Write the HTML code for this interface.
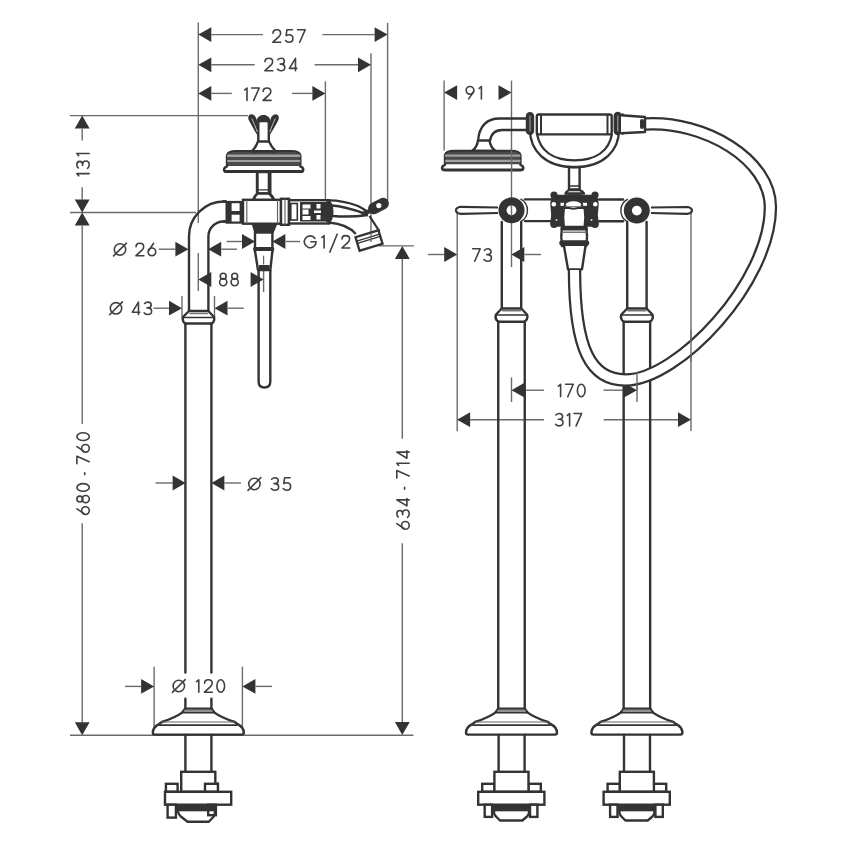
<!DOCTYPE html>
<html><head><meta charset="utf-8"><style>
html,body{margin:0;padding:0;background:#fff;}
svg{display:block;}
text{font-family:"Liberation Sans", sans-serif;}
</style></head><body>
<svg width="850" height="850" viewBox="0 0 850 850" style="will-change:transform">
<rect width="850" height="850" fill="#fff"/>
<line x1="198.3" y1="22.5" x2="198.3" y2="223" stroke="#6a6a6a" stroke-width="1.4"/>
<line x1="387.6" y1="22.8" x2="387.6" y2="201" stroke="#6a6a6a" stroke-width="1.4"/>
<line x1="371" y1="53.2" x2="371" y2="242" stroke="#6a6a6a" stroke-width="1.4"/>
<line x1="325.4" y1="81.4" x2="325.4" y2="200.6" stroke="#6a6a6a" stroke-width="1.4"/>
<polygon points="198.3,34.6 211.3,27.2 211.3,42.0" fill="#333"/>
<line x1="211.3" y1="34.6" x2="263" y2="34.6" stroke="#6a6a6a" stroke-width="1.4"/>
<line x1="322.4" y1="34.6" x2="374.6" y2="34.6" stroke="#6a6a6a" stroke-width="1.4"/>
<polygon points="387.6,34.6 374.6,27.2 374.6,42.0" fill="#333"/>
<g transform="translate(272.00,29.00)" fill="none" stroke="#404040" stroke-width="1.6" stroke-linecap="round" stroke-linejoin="round"><g transform="translate(0.00,0) scale(1.0)"><path d="M 1.0,4.2 C 1.0,2.1 2.7,0.8 4.8,0.8 C 7.0,0.8 8.6,2.3 8.6,4.2 C 8.6,5.6 7.9,6.6 6.9,7.6 L 0.9,13.2 L 8.8,13.2"/></g><g transform="translate(12.70,0) scale(1.0)"><path d="M 7.8,0.8 L 2.2,0.8 L 1.4,6.6 C 2.3,6.0 3.3,5.7 4.4,5.7 C 6.7,5.7 8.2,7.3 8.2,9.4 C 8.2,11.6 6.5,13.2 4.3,13.2 C 2.8,13.2 1.6,12.6 0.8,11.6"/></g><g transform="translate(24.80,0) scale(1.0)"><path d="M 0.8,0.8 L 8.4,0.8 L 2.9,13.2"/></g></g>
<polygon points="198.3,64.8 211.3,57.4 211.3,72.2" fill="#333"/>
<line x1="211.3" y1="64.8" x2="254.7" y2="64.8" stroke="#6a6a6a" stroke-width="1.4"/>
<line x1="314.6" y1="64.8" x2="358.0" y2="64.8" stroke="#6a6a6a" stroke-width="1.4"/>
<polygon points="371.0,64.8 358.0,57.4 358.0,72.2" fill="#333"/>
<g transform="translate(264.00,57.50)" fill="none" stroke="#404040" stroke-width="1.6" stroke-linecap="round" stroke-linejoin="round"><g transform="translate(0.00,0) scale(1.0)"><path d="M 1.0,4.2 C 1.0,2.1 2.7,0.8 4.8,0.8 C 7.0,0.8 8.6,2.3 8.6,4.2 C 8.6,5.6 7.9,6.6 6.9,7.6 L 0.9,13.2 L 8.8,13.2"/></g><g transform="translate(12.60,0) scale(1.0)"><path d="M 1.2,2.2 C 2.0,1.3 3.2,0.8 4.5,0.8 C 6.5,0.8 7.8,2.1 7.8,3.8 C 7.8,5.5 6.4,6.6 4.4,6.6 L 3.6,6.6 M 4.4,6.6 C 6.8,6.6 8.2,8.0 8.2,9.9 C 8.2,11.9 6.6,13.2 4.4,13.2 C 2.9,13.2 1.6,12.6 0.8,11.6"/></g><g transform="translate(24.60,0) scale(1.0)"><path d="M 6.9,13.2 L 6.9,0.8 L 0.8,10.9 L 8.2,10.9"/></g></g>
<polygon points="198.3,93.4 211.3,86.0 211.3,100.8" fill="#333"/>
<line x1="211.3" y1="93.4" x2="231.8" y2="93.4" stroke="#6a6a6a" stroke-width="1.4"/>
<line x1="292" y1="93.4" x2="312.4" y2="93.4" stroke="#6a6a6a" stroke-width="1.4"/>
<polygon points="325.4,93.4 312.4,86.0 312.4,100.8" fill="#333"/>
<g transform="translate(244.00,87.20)" fill="none" stroke="#404040" stroke-width="1.6" stroke-linecap="round" stroke-linejoin="round"><g transform="translate(0.00,0) scale(1.0)"><path d="M 0.8,2.7 L 3.0,0.8 L 3.0,13.2"/></g><g transform="translate(6.80,0) scale(1.0)"><path d="M 0.8,0.8 L 8.4,0.8 L 2.9,13.2"/></g><g transform="translate(18.20,0) scale(1.0)"><path d="M 1.0,4.2 C 1.0,2.1 2.7,0.8 4.8,0.8 C 7.0,0.8 8.6,2.3 8.6,4.2 C 8.6,5.6 7.9,6.6 6.9,7.6 L 0.9,13.2 L 8.8,13.2"/></g></g>
<line x1="70" y1="115.6" x2="248" y2="115.6" stroke="#6a6a6a" stroke-width="1.4"/>
<line x1="70" y1="212.5" x2="196" y2="212.5" stroke="#6a6a6a" stroke-width="1.4"/>
<polygon points="82.2,115.6 74.8,128.6 89.6,128.6" fill="#333"/>
<line x1="82.2" y1="128.6" x2="82.2" y2="140.4" stroke="#6a6a6a" stroke-width="1.4"/>
<g transform="translate(90.00,176.60) rotate(-90) translate(0,-14.00)" fill="none" stroke="#404040" stroke-width="1.6" stroke-linecap="round" stroke-linejoin="round"><g transform="translate(0.00,0) scale(1.0)"><path d="M 0.8,2.7 L 3.0,0.8 L 3.0,13.2"/></g><g transform="translate(7.45,0) scale(1.0)"><path d="M 1.2,2.2 C 2.0,1.3 3.2,0.8 4.5,0.8 C 6.5,0.8 7.8,2.1 7.8,3.8 C 7.8,5.5 6.4,6.6 4.4,6.6 L 3.6,6.6 M 4.4,6.6 C 6.8,6.6 8.2,8.0 8.2,9.9 C 8.2,11.9 6.6,13.2 4.4,13.2 C 2.9,13.2 1.6,12.6 0.8,11.6"/></g><g transform="translate(20.10,0) scale(1.0)"><path d="M 0.8,2.7 L 3.0,0.8 L 3.0,13.2"/></g></g>
<line x1="82.2" y1="187.3" x2="82.2" y2="199.5" stroke="#6a6a6a" stroke-width="1.4"/>
<polygon points="82.2,212.5 74.8,199.5 89.6,199.5" fill="#333"/>
<polygon points="82.2,212.5 74.8,225.5 89.6,225.5" fill="#333"/>
<line x1="82.2" y1="225.5" x2="82.2" y2="424" stroke="#6a6a6a" stroke-width="1.4"/>
<g transform="translate(90.10,515.20) rotate(-90) translate(0,-14.00)" fill="none" stroke="#404040" stroke-width="1.6" stroke-linecap="round" stroke-linejoin="round"><g transform="translate(0.00,0) scale(1.0)"><path d="M 6.3,0.8 L 1.5,8.0"/><circle cx="4.6" cy="9.35" r="3.85"/></g><g transform="translate(11.64,0) scale(1.0)"><circle cx="4.5" cy="3.75" r="2.95"/><circle cx="4.5" cy="9.6" r="3.6"/></g><g transform="translate(23.08,0) scale(1.0)"><ellipse cx="4.65" cy="7" rx="3.85" ry="6.2"/></g><g transform="translate(39.80,0) scale(1.0)"><path d="M 0.8,8.6 L 2.6,8.6"/></g><g transform="translate(50.62,0) scale(1.0)"><path d="M 0.8,0.8 L 8.4,0.8 L 2.9,13.2"/></g><g transform="translate(62.26,0) scale(1.0)"><path d="M 6.3,0.8 L 1.5,8.0"/><circle cx="4.6" cy="9.35" r="3.85"/></g><g transform="translate(73.90,0) scale(1.0)"><ellipse cx="4.65" cy="7" rx="3.85" ry="6.2"/></g></g>
<line x1="82.2" y1="523.3" x2="82.2" y2="722.3" stroke="#6a6a6a" stroke-width="1.4"/>
<polygon points="82.2,735.3 74.8,722.3 89.6,722.3" fill="#333"/>
<line x1="70" y1="735.2" x2="413.5" y2="735.2" stroke="#6a6a6a" stroke-width="1.4"/>
<line x1="378.8" y1="245.9" x2="414" y2="245.9" stroke="#6a6a6a" stroke-width="1.4"/>
<polygon points="402.3,245.9 394.9,258.9 409.7,258.9" fill="#333"/>
<line x1="402.3" y1="258.9" x2="402.3" y2="438.8" stroke="#6a6a6a" stroke-width="1.4"/>
<g transform="translate(410.00,530.00) rotate(-90) translate(0,-14.00)" fill="none" stroke="#404040" stroke-width="1.6" stroke-linecap="round" stroke-linejoin="round"><g transform="translate(0.00,0) scale(1.0)"><path d="M 6.3,0.8 L 1.5,8.0"/><circle cx="4.6" cy="9.35" r="3.85"/></g><g transform="translate(11.73,0) scale(1.0)"><path d="M 1.2,2.2 C 2.0,1.3 3.2,0.8 4.5,0.8 C 6.5,0.8 7.8,2.1 7.8,3.8 C 7.8,5.5 6.4,6.6 4.4,6.6 L 3.6,6.6 M 4.4,6.6 C 6.8,6.6 8.2,8.0 8.2,9.9 C 8.2,11.9 6.6,13.2 4.4,13.2 C 2.9,13.2 1.6,12.6 0.8,11.6"/></g><g transform="translate(23.27,0) scale(1.0)"><path d="M 6.9,13.2 L 6.9,0.8 L 0.8,10.9 L 8.2,10.9"/></g><g transform="translate(39.98,0) scale(1.0)"><path d="M 0.8,8.6 L 2.6,8.6"/></g><g transform="translate(51.09,0) scale(1.0)"><path d="M 0.8,0.8 L 8.4,0.8 L 2.9,13.2"/></g><g transform="translate(63.75,0) scale(1.0)"><path d="M 0.8,2.7 L 3.0,0.8 L 3.0,13.2"/></g><g transform="translate(71.00,0) scale(1.0)"><path d="M 6.9,13.2 L 6.9,0.8 L 0.8,10.9 L 8.2,10.9"/></g></g>
<line x1="402.3" y1="543.3" x2="402.3" y2="722.0" stroke="#6a6a6a" stroke-width="1.4"/>
<polygon points="402.3,735.0 394.9,722.0 409.7,722.0" fill="#333"/>
<line x1="158.8" y1="249.2" x2="175.4" y2="249.2" stroke="#6a6a6a" stroke-width="1.4"/>
<polygon points="188.4,249.2 175.4,241.8 175.4,256.6" fill="#333"/>
<polygon points="208.2,249.2 221.2,241.8 221.2,256.6" fill="#333"/>
<line x1="221.2" y1="249.2" x2="237" y2="249.2" stroke="#6a6a6a" stroke-width="1.4"/>
<g transform="translate(113.00,242.50)" fill="none" stroke="#404040" stroke-width="1.6" stroke-linecap="round" stroke-linejoin="round"><g transform="translate(0.00,0) scale(1.0)"><circle cx="7" cy="7" r="5.7"/><path d="M 0.6,13.4 L 13.4,0.6"/></g><g transform="translate(22.06,0) scale(1.0)"><path d="M 1.0,4.2 C 1.0,2.1 2.7,0.8 4.8,0.8 C 7.0,0.8 8.6,2.3 8.6,4.2 C 8.6,5.6 7.9,6.6 6.9,7.6 L 0.9,13.2 L 8.8,13.2"/></g><g transform="translate(34.30,0) scale(1.0)"><path d="M 6.3,0.8 L 1.5,8.0"/><circle cx="4.6" cy="9.35" r="3.85"/></g></g>
<line x1="226.5" y1="241.5" x2="242.0" y2="241.5" stroke="#6a6a6a" stroke-width="1.4"/>
<polygon points="255.0,241.5 242.0,234.1 242.0,248.9" fill="#333"/>
<polygon points="272.4,241.5 285.4,234.1 285.4,248.9" fill="#333"/>
<line x1="285.4" y1="241.5" x2="300" y2="241.5" stroke="#6a6a6a" stroke-width="1.4"/>
<g transform="translate(303.50,234.80)" fill="none" stroke="#404040" stroke-width="1.6" stroke-linecap="round" stroke-linejoin="round"><g transform="translate(0.00,0) scale(1.0)"><path d="M 11.53,3.62 A 5.9,5.9 0 1 0 12.6,7 L 7.4,7"/></g><g transform="translate(17.57,0) scale(1.0)"><path d="M 0.8,2.7 L 3.0,0.8 L 3.0,13.2"/></g><g transform="translate(25.54,0) scale(1.0)"><path d="M 0.8,17.3 L 8.1,-0.6"/></g><g transform="translate(37.50,0) scale(1.0)"><path d="M 1.0,4.2 C 1.0,2.1 2.7,0.8 4.8,0.8 C 7.0,0.8 8.6,2.3 8.6,4.2 C 8.6,5.6 7.9,6.6 6.9,7.6 L 0.9,13.2 L 8.8,13.2"/></g></g>
<line x1="198.3" y1="253" x2="198.3" y2="291" stroke="#6a6a6a" stroke-width="1.4"/>
<line x1="263.6" y1="254" x2="263.6" y2="292" stroke="#6a6a6a" stroke-width="1.4"/>
<polygon points="198.3,279.5 211.3,272.1 211.3,286.9" fill="#333"/>
<polygon points="263.6,279.5 250.6,272.1 250.6,286.9" fill="#333"/>
<g transform="translate(218.70,272.50)" fill="none" stroke="#404040" stroke-width="1.6" stroke-linecap="round" stroke-linejoin="round"><g transform="translate(0.00,0) scale(1.0)"><circle cx="4.5" cy="3.75" r="2.95"/><circle cx="4.5" cy="9.6" r="3.6"/></g><g transform="translate(11.50,0) scale(1.0)"><circle cx="4.5" cy="3.75" r="2.95"/><circle cx="4.5" cy="9.6" r="3.6"/></g></g>
<line x1="182" y1="296" x2="182" y2="318" stroke="#6a6a6a" stroke-width="1.4"/>
<line x1="214.5" y1="296" x2="214.5" y2="318" stroke="#6a6a6a" stroke-width="1.4"/>
<line x1="153.5" y1="308.2" x2="169.0" y2="308.2" stroke="#6a6a6a" stroke-width="1.4"/>
<polygon points="182.0,308.2 169.0,300.8 169.0,315.6" fill="#333"/>
<polygon points="214.5,308.2 227.5,300.8 227.5,315.6" fill="#333"/>
<line x1="227.5" y1="308.2" x2="243.8" y2="308.2" stroke="#6a6a6a" stroke-width="1.4"/>
<g transform="translate(109.00,301.30)" fill="none" stroke="#404040" stroke-width="1.6" stroke-linecap="round" stroke-linejoin="round"><g transform="translate(0.00,0) scale(1.0)"><circle cx="7" cy="7" r="5.7"/><path d="M 0.6,13.4 L 13.4,0.6"/></g><g transform="translate(22.58,0) scale(1.0)"><path d="M 6.9,13.2 L 6.9,0.8 L 0.8,10.9 L 8.2,10.9"/></g><g transform="translate(34.40,0) scale(1.0)"><path d="M 1.2,2.2 C 2.0,1.3 3.2,0.8 4.5,0.8 C 6.5,0.8 7.8,2.1 7.8,3.8 C 7.8,5.5 6.4,6.6 4.4,6.6 L 3.6,6.6 M 4.4,6.6 C 6.8,6.6 8.2,8.0 8.2,9.9 C 8.2,11.9 6.6,13.2 4.4,13.2 C 2.9,13.2 1.6,12.6 0.8,11.6"/></g></g>
<line x1="155.6" y1="483" x2="172.6" y2="483" stroke="#6a6a6a" stroke-width="1.4"/>
<polygon points="185.6,483.0 172.6,475.6 172.6,490.4" fill="#333"/>
<polygon points="211.4,483.0 224.4,475.6 224.4,490.4" fill="#333"/>
<line x1="224.4" y1="483" x2="241" y2="483" stroke="#6a6a6a" stroke-width="1.4"/>
<g transform="translate(247.40,477.00)" fill="none" stroke="#404040" stroke-width="1.6" stroke-linecap="round" stroke-linejoin="round"><g transform="translate(0.00,0) scale(1.0)"><circle cx="7" cy="7" r="5.7"/><path d="M 0.6,13.4 L 13.4,0.6"/></g><g transform="translate(23.03,0) scale(1.0)"><path d="M 1.2,2.2 C 2.0,1.3 3.2,0.8 4.5,0.8 C 6.5,0.8 7.8,2.1 7.8,3.8 C 7.8,5.5 6.4,6.6 4.4,6.6 L 3.6,6.6 M 4.4,6.6 C 6.8,6.6 8.2,8.0 8.2,9.9 C 8.2,11.9 6.6,13.2 4.4,13.2 C 2.9,13.2 1.6,12.6 0.8,11.6"/></g><g transform="translate(35.00,0) scale(1.0)"><path d="M 7.8,0.8 L 2.2,0.8 L 1.4,6.6 C 2.3,6.0 3.3,5.7 4.4,5.7 C 6.7,5.7 8.2,7.3 8.2,9.4 C 8.2,11.6 6.5,13.2 4.3,13.2 C 2.8,13.2 1.6,12.6 0.8,11.6"/></g></g>
<line x1="154.1" y1="666.7" x2="154.1" y2="735" stroke="#6a6a6a" stroke-width="1.4"/>
<line x1="242.4" y1="666.7" x2="242.4" y2="735" stroke="#6a6a6a" stroke-width="1.4"/>
<line x1="125" y1="686.4" x2="141.1" y2="686.4" stroke="#6a6a6a" stroke-width="1.4"/>
<polygon points="154.1,686.4 141.1,679.0 141.1,693.8" fill="#333"/>
<polygon points="242.4,686.4 255.4,679.0 255.4,693.8" fill="#333"/>
<line x1="255.4" y1="686.4" x2="272" y2="686.4" stroke="#6a6a6a" stroke-width="1.4"/>
<g transform="translate(171.80,679.00)" fill="none" stroke="#404040" stroke-width="1.6" stroke-linecap="round" stroke-linejoin="round"><g transform="translate(0.00,0) scale(1.0)"><circle cx="7" cy="7" r="5.7"/><path d="M 0.6,13.4 L 13.4,0.6"/></g><g transform="translate(23.98,0) scale(1.0)"><path d="M 0.8,2.7 L 3.0,0.8 L 3.0,13.2"/></g><g transform="translate(31.77,0) scale(1.0)"><path d="M 1.0,4.2 C 1.0,2.1 2.7,0.8 4.8,0.8 C 7.0,0.8 8.6,2.3 8.6,4.2 C 8.6,5.6 7.9,6.6 6.9,7.6 L 0.9,13.2 L 8.8,13.2"/></g><g transform="translate(44.30,0) scale(1.0)"><ellipse cx="4.65" cy="7" rx="3.85" ry="6.2"/></g></g>
<path d="M 189,311 L 189,236.5 A 35,35 0 0 1 223.5,201.5 L 226,201.5" stroke="#333" stroke-width="2.4" fill="none" stroke-linejoin="round" />
<path d="M 208.4,311 L 208.4,236.5 A 15,15 0 0 1 223.5,221.5 L 226,221.5" stroke="#333" stroke-width="2.4" fill="none" stroke-linejoin="round" />
<path d="M 189,311 L 208.4,311 L 214,317 Q 215,321 212,323.5 L 185,323.5 Q 182,321 183,317 Z" stroke="#333" stroke-width="2.4" fill="#fff" stroke-linejoin="round" />
<line x1="183" y1="317.5" x2="214" y2="317.5" stroke="#333" stroke-width="1.6" stroke-linecap="round"/>
<line x1="190" y1="313.5" x2="207.5" y2="313.5" stroke="#777" stroke-width="1.6" stroke-linecap="round"/>
<line x1="185.4" y1="323.5" x2="185.4" y2="672.6" stroke="#333" stroke-width="2.4" stroke-linecap="round"/>
<line x1="211.4" y1="323.5" x2="211.4" y2="672.6" stroke="#333" stroke-width="2.4" stroke-linecap="round"/>
<line x1="185.4" y1="698.7" x2="185.4" y2="709" stroke="#333" stroke-width="2.4" stroke-linecap="round"/>
<line x1="211.4" y1="698.7" x2="211.4" y2="709" stroke="#333" stroke-width="2.4" stroke-linecap="round"/>
<path d="M 185.0,708.6 L 211.60000000000002,708.6 L 214.5,712.6 Q 221.3,717.6 234.8,722.0 L 236.8,723.6 Q 243.8,727.1 243.8,732.6 Q 243.8,734.6 241.8,734.6 L 154.8,734.6 Q 152.8,734.6 152.8,732.6 Q 152.8,727.1 159.8,723.6 L 161.8,722.0 Q 175.3,717.6 182.10000000000002,712.6 Z" stroke="#333" stroke-width="2.4" fill="#fff" stroke-linejoin="round" />
<line x1="182.3" y1="712.6" x2="214.3" y2="712.6" stroke="#333" stroke-width="2.0" stroke-linecap="round"/>
<line x1="184.3" y1="710.6" x2="212.3" y2="710.6" stroke="#888" stroke-width="1.2" stroke-linecap="round"/>
<line x1="161.8" y1="722.0" x2="234.8" y2="722.0" stroke="#666" stroke-width="1.2" stroke-linecap="round"/>
<line x1="159.8" y1="725.2" x2="236.8" y2="725.2" stroke="#333" stroke-width="1.8" stroke-linecap="round"/>
<line x1="185.4" y1="735" x2="185.4" y2="771.8" stroke="#333" stroke-width="2.4" stroke-linecap="round"/>
<line x1="211.4" y1="735" x2="211.4" y2="771.8" stroke="#333" stroke-width="2.4" stroke-linecap="round"/>
<rect x="165.9" y="783.8" width="11.7" height="8" rx="0" stroke="#333" stroke-width="2.4" fill="#fff"/>
<rect x="205.0" y="783.8" width="12.9" height="8" rx="0" stroke="#333" stroke-width="2.4" fill="#fff"/>
<rect x="181.20000000000002" y="771.8" width="34.1" height="20" rx="0" stroke="#333" stroke-width="2.4" fill="#fff"/>
<rect x="205.0" y="783.8" width="12.9" height="8" rx="0" stroke="#333" stroke-width="2.4" fill="#fff"/>
<rect x="165.0" y="791.8" width="66.2" height="12.9" rx="0" stroke="#333" stroke-width="2.4" fill="#fff"/>
<rect x="167.60000000000002" y="804.7" width="8.3" height="12.9" rx="0" stroke="#333" stroke-width="2.4" fill="#fff"/>
<path d="M 178.0,805 L 178.0,812 Q 178.8,814.5 180.8,816.5 L 187.60000000000002,821.8 L 208.8,821.8 L 213.3,817 Q 215.0,814.5 215.0,812 L 215.0,805" stroke="#333" stroke-width="2.4" fill="#fff" stroke-linejoin="round" />
<rect x="178.0" y="804.5" width="37" height="6.8" fill="#333"/>
<rect x="208.20000000000002" y="804.7" width="7.7" height="10.5" rx="0" stroke="#333" stroke-width="2.4" fill="none"/>
<line x1="223.5" y1="201.5" x2="226" y2="201.5" stroke="#333" stroke-width="2.4" stroke-linecap="round"/>
<line x1="223.5" y1="221.5" x2="226" y2="221.5" stroke="#333" stroke-width="2.4" stroke-linecap="round"/>
<rect x="225.5" y="200.9" width="17.5" height="22.8" fill="#333"/>
<rect x="231.6" y="203.2" width="8" height="7.8" fill="#fff"/>
<rect x="231.6" y="214.7" width="8" height="6.8" fill="#fff"/>
<rect x="243" y="199.8" width="38" height="23.9" rx="0" stroke="#333" stroke-width="2.4" fill="#fff"/>
<line x1="246.8" y1="200.5" x2="246.8" y2="223" stroke="#666" stroke-width="1.2" stroke-linecap="round"/>
<line x1="277.5" y1="200.5" x2="277.5" y2="223" stroke="#666" stroke-width="1.2" stroke-linecap="round"/>
<rect x="281" y="198.8" width="8" height="26" rx="0" stroke="#333" stroke-width="2.4" fill="#fff"/>
<line x1="285" y1="199.5" x2="285" y2="224.5" stroke="#666" stroke-width="1.2" stroke-linecap="round"/>
<rect x="289" y="200.2" width="40" height="23.3" rx="0" stroke="#333" stroke-width="2.4" fill="#fff"/>
<rect x="290.8" y="203.5" width="6.5" height="16.5" fill="#fff" stroke="#333" stroke-width="1.6"/>
<rect x="300" y="202" width="28" height="19.5" fill="#333"/>
<rect x="302.5" y="204.5" width="8" height="4" fill="#fff"/>
<rect x="302.5" y="209.5" width="6" height="5" fill="#fff"/>
<rect x="302.5" y="216" width="8" height="4" fill="#fff"/>
<rect x="316.5" y="204" width="4" height="4.5" fill="#fff"/>
<rect x="314" y="210.5" width="7" height="2.5" fill="#fff"/>
<rect x="316.5" y="215" width="4" height="4.5" fill="#fff"/>
<ellipse cx="328.5" cy="211.8" rx="5" ry="11.3" fill="#333"/>
<path d="M 329,200.4 C 340,200.4 350,203 358,206 C 362,208 365,210 368,212" stroke="#333" stroke-width="2.4" fill="none" stroke-linejoin="round" />
<path d="M 332,205.5 C 343,206 355,210 366,214" stroke="#333" stroke-width="2.6" fill="none" stroke-linejoin="round" />
<path d="M 333,216 C 345,217 357,216.5 368,215" stroke="#333" stroke-width="2.6" fill="none" stroke-linejoin="round" />
<path d="M 329,222.5 C 340,223.5 349,226 355.8,234" stroke="#333" stroke-width="2.4" fill="none" stroke-linejoin="round" />
<path d="M 369.5,216 L 379.5,231.5" stroke="#333" stroke-width="2.3" fill="none" stroke-linejoin="round" />
<rect x="-11" y="-5.8" width="22" height="11.6" rx="5.8" transform="translate(378.5,206) rotate(-28)" fill="#333"/>
<circle cx="378.8" cy="205.6" r="2.6" fill="#fff"/>
<path d="M 362,214.5 L 372,210" stroke="#333" stroke-width="4.5" fill="none" stroke-linejoin="round" />
<g transform="translate(369,240.5) rotate(-17)"><rect x="-12" y="-7" width="24" height="14" fill="#fff" stroke="#333" stroke-width="2.3"/><line x1="-12" y1="-3" x2="12" y2="-3" stroke="#333" stroke-width="1.3"/><line x1="-12" y1="-0.6" x2="12" y2="-0.6" stroke="#333" stroke-width="1.3"/></g>
<line x1="371" y1="233" x2="371" y2="242" stroke="#6a6a6a" stroke-width="1.4"/>
<rect x="257" y="172" width="13.3" height="22.5" rx="0" stroke="#333" stroke-width="2.4" fill="#fff"/>
<path d="M 257,186.5 L 270.3,186.5 M 257,189.5 L 270.3,189.5" stroke="#333" stroke-width="1.3" fill="none" stroke-linejoin="round" />
<path d="M 257,194.5 Q 254,196 253.5,199.8 L 273.8,199.8 Q 273,196 270.3,194.5 Z" stroke="#333" stroke-width="2.4" fill="#fff" stroke-linejoin="round" />
<path d="M 224,169.9 Q 224,167.4 227,166.4 L 227,155.2 Q 228,151.2 236,151.2 L 291.3,151.2 Q 299.3,151.2 300.3,155.2 L 300.3,166.4 Q 303.3,167.4 303.3,169.9 Q 302.8,171.9 300.3,171.9 L 227,171.9 Q 224.5,171.9 224,169.9 Z" stroke="#333" stroke-width="2.4" fill="#fff" stroke-linejoin="round" />
<path d="M 227.5,155.2 Q 228.5,152.0 236,152.0 L 291.3,152.0 Q 298.8,152.0 299.8,155.2 L 299.8,165.9 L 227.5,165.9 Z" fill="#4a4a4a"/>
<line x1="228" y1="155.79999999999998" x2="299.3" y2="155.79999999999998" stroke="#a0a0a0" stroke-width="2.4" stroke-linecap="round"/>
<line x1="228" y1="161.0" x2="299.3" y2="161.0" stroke="#a0a0a0" stroke-width="2.2" stroke-linecap="round"/>
<line x1="225" y1="171.4" x2="302.3" y2="171.4" stroke="#333" stroke-width="2.6" stroke-linecap="round"/>
<rect x="257.5" y="172" width="11.4" height="22.5" rx="0" stroke="#333" stroke-width="2.4" fill="#fff"/>
<path d="M 257.5,189.8 L 268.9,189.8 M 257.5,192.8 L 268.9,192.8" stroke="#333" stroke-width="1.3" fill="none" stroke-linejoin="round" />
<path d="M 257.5,193.5 Q 255,196 253.5,199.8 L 273.8,199.8 Q 272,196 268.9,193.5 Z" stroke="#333" stroke-width="2.4" fill="#fff" stroke-linejoin="round" />
<path d="M 258,141.5 L 269,141.5 Q 271.5,147 275.5,151.2 L 252,151.2 Q 256,147 258,141.5 Z" stroke="#333" stroke-width="2.4" fill="#fff" stroke-linejoin="round" />
<path d="M 258.3,141.5 L 258.3,123 M 268.8,141.5 L 268.8,123" stroke="#333" stroke-width="2.4" fill="none" stroke-linejoin="round" />
<path d="M 256.3,124 C 256.3,117.5 259.5,115 263.5,115 C 267.5,115 270.8,117.5 270.8,124 C 268.5,121.5 258.5,121.5 256.3,124 Z" fill="#333"/>
<path d="M 258.8,137 C 255,132 252,126 249.2,121 C 247.5,118 248,114.3 251.5,114.3 C 254,114.3 255.8,116.5 256.5,119 C 257.5,123 258.3,127 258.8,130 Z" fill="#333"/>
<path d="M 268.3,137 C 272.1,132 275.1,126 277.9,121 C 279.6,118 279.1,114.3 275.6,114.3 C 273.1,114.3 271.3,116.5 270.6,119 C 269.6,123 268.8,127 268.3,130 Z" fill="#333"/>
<path d="M 251.8,118.5 C 253.5,122 255.5,127 257.3,132 M 275.3,118.5 C 273.6,122 271.6,127 269.8,132" stroke="#bbb" stroke-width="1.0" fill="none" stroke-linejoin="round" />
<path d="M 252.5,224 L 276.5,224 L 273,232.5 L 255,232.5 Z" stroke="#333" stroke-width="1.5" fill="#333" stroke-linejoin="round" />
<rect x="255" y="232.5" width="17.4" height="18.5" rx="0" stroke="#333" stroke-width="2.4" fill="#fff"/>
<line x1="255" y1="249" x2="272.4" y2="249" stroke="#333" stroke-width="4" stroke-linecap="round"/>
<path d="M 255,251 L 258,270 L 270.3,270 L 272.4,251" stroke="#333" stroke-width="2.4" fill="#fff" stroke-linejoin="round" />
<line x1="263.6" y1="256" x2="263.6" y2="264" stroke="#666" stroke-width="1.2" stroke-linecap="round"/>
<rect x="259" y="265" width="10.5" height="6" fill="#333"/>
<path d="M 258.6,270 L 258.6,381.5 Q 258.6,387.5 264.45,387.5 Q 270.3,387.5 270.3,381.5 L 270.3,270" stroke="#333" stroke-width="2.4" fill="none" stroke-linejoin="round" />
<line x1="444.1" y1="80.6" x2="444.1" y2="150.5" stroke="#6a6a6a" stroke-width="1.4"/>
<line x1="511.5" y1="80.6" x2="511.5" y2="267" stroke="#6a6a6a" stroke-width="1.4"/>
<polygon points="444.1,92.6 457.1,85.2 457.1,100.0" fill="#333"/>
<polygon points="511.5,92.6 498.5,85.2 498.5,100.0" fill="#333"/>
<g transform="translate(465.30,85.70)" fill="none" stroke="#404040" stroke-width="1.6" stroke-linecap="round" stroke-linejoin="round"><g transform="translate(0.00,0) scale(1.0)"><circle cx="4.7" cy="4.65" r="3.85"/><path d="M 8.45,5.8 L 3.4,13.2"/></g><g transform="translate(13.10,0) scale(1.0)"><path d="M 0.8,2.7 L 3.0,0.8 L 3.0,13.2"/></g></g>
<line x1="457.2" y1="211" x2="457.2" y2="431.2" stroke="#6a6a6a" stroke-width="1.4"/>
<line x1="428" y1="254.5" x2="444.2" y2="254.5" stroke="#6a6a6a" stroke-width="1.4"/>
<polygon points="457.2,254.5 444.2,247.1 444.2,261.9" fill="#333"/>
<polygon points="511.3,254.5 524.3,247.1 524.3,261.9" fill="#333"/>
<line x1="524.3" y1="254.5" x2="541" y2="254.5" stroke="#6a6a6a" stroke-width="1.4"/>
<g transform="translate(471.80,248.00)" fill="none" stroke="#404040" stroke-width="1.6" stroke-linecap="round" stroke-linejoin="round"><g transform="translate(0.00,0) scale(1.0)"><path d="M 0.8,0.8 L 8.4,0.8 L 2.9,13.2"/></g><g transform="translate(11.40,0) scale(1.0)"><path d="M 1.2,2.2 C 2.0,1.3 3.2,0.8 4.5,0.8 C 6.5,0.8 7.8,2.1 7.8,3.8 C 7.8,5.5 6.4,6.6 4.4,6.6 L 3.6,6.6 M 4.4,6.6 C 6.8,6.6 8.2,8.0 8.2,9.9 C 8.2,11.9 6.6,13.2 4.4,13.2 C 2.9,13.2 1.6,12.6 0.8,11.6"/></g></g>
<line x1="511.5" y1="377.4" x2="511.5" y2="402" stroke="#6a6a6a" stroke-width="1.4"/>
<line x1="637" y1="373.5" x2="637" y2="402" stroke="#6a6a6a" stroke-width="1.4"/>
<polygon points="511.5,390.2 524.5,382.8 524.5,397.6" fill="#333"/>
<line x1="524.5" y1="390.2" x2="544" y2="390.2" stroke="#6a6a6a" stroke-width="1.4"/>
<line x1="603.5" y1="390.2" x2="624.0" y2="390.2" stroke="#6a6a6a" stroke-width="1.4"/>
<polygon points="637.0,390.2 624.0,382.8 624.0,397.6" fill="#333"/>
<g transform="translate(557.60,383.50)" fill="none" stroke="#404040" stroke-width="1.6" stroke-linecap="round" stroke-linejoin="round"><g transform="translate(0.00,0) scale(1.0)"><path d="M 0.8,2.7 L 3.0,0.8 L 3.0,13.2"/></g><g transform="translate(7.26,0) scale(1.0)"><path d="M 0.8,0.8 L 8.4,0.8 L 2.9,13.2"/></g><g transform="translate(19.00,0) scale(1.0)"><ellipse cx="4.65" cy="7" rx="3.85" ry="6.2"/></g></g>
<line x1="691" y1="213" x2="691" y2="431" stroke="#6a6a6a" stroke-width="1.4"/>
<polygon points="457.1,419.7 470.1,412.3 470.1,427.1" fill="#333"/>
<line x1="470.1" y1="419.7" x2="544" y2="419.7" stroke="#6a6a6a" stroke-width="1.4"/>
<line x1="603.6" y1="419.7" x2="678.0" y2="419.7" stroke="#6a6a6a" stroke-width="1.4"/>
<polygon points="691.0,419.7 678.0,412.3 678.0,427.1" fill="#333"/>
<g transform="translate(554.80,412.70)" fill="none" stroke="#404040" stroke-width="1.6" stroke-linecap="round" stroke-linejoin="round"><g transform="translate(0.00,0) scale(1.0)"><path d="M 1.2,2.2 C 2.0,1.3 3.2,0.8 4.5,0.8 C 6.5,0.8 7.8,2.1 7.8,3.8 C 7.8,5.5 6.4,6.6 4.4,6.6 L 3.6,6.6 M 4.4,6.6 C 6.8,6.6 8.2,8.0 8.2,9.9 C 8.2,11.9 6.6,13.2 4.4,13.2 C 2.9,13.2 1.6,12.6 0.8,11.6"/></g><g transform="translate(11.80,0) scale(1.0)"><path d="M 0.8,2.7 L 3.0,0.8 L 3.0,13.2"/></g><g transform="translate(18.40,0) scale(1.0)"><path d="M 0.8,0.8 L 8.4,0.8 L 2.9,13.2"/></g></g>
<line x1="501.8" y1="222" x2="501.8" y2="308.5" stroke="#333" stroke-width="2.4" stroke-linecap="round"/>
<line x1="521.2" y1="222" x2="521.2" y2="308.5" stroke="#333" stroke-width="2.4" stroke-linecap="round"/>
<path d="M 501.8,308.5 L 521.2,308.5 L 527.0,314.5 Q 528.5,319 524.7,321.8 L 498.3,321.8 Q 494.5,319 496.0,314.5 Z" stroke="#333" stroke-width="2.4" fill="#fff" stroke-linejoin="round" />
<line x1="496.0" y1="315" x2="527.0" y2="315" stroke="#333" stroke-width="1.6" stroke-linecap="round"/>
<line x1="502.5" y1="310.8" x2="520.5" y2="310.8" stroke="#777" stroke-width="1.6" stroke-linecap="round"/>
<line x1="498.25" y1="321.8" x2="498.25" y2="709" stroke="#333" stroke-width="2.4" stroke-linecap="round"/>
<line x1="524.75" y1="321.8" x2="524.75" y2="709" stroke="#333" stroke-width="2.4" stroke-linecap="round"/>
<path d="M 498.2,708.6 L 524.8,708.6 L 527.7,712.6 Q 534.5,717.6 548.0,722.0 L 550.0,723.6 Q 557.0,727.1 557.0,732.6 Q 557.0,734.6 555.0,734.6 L 468.0,734.6 Q 466.0,734.6 466.0,732.6 Q 466.0,727.1 473.0,723.6 L 475.0,722.0 Q 488.5,717.6 495.3,712.6 Z" stroke="#333" stroke-width="2.4" fill="#fff" stroke-linejoin="round" />
<line x1="495.5" y1="712.6" x2="527.5" y2="712.6" stroke="#333" stroke-width="2.0" stroke-linecap="round"/>
<line x1="497.5" y1="710.6" x2="525.5" y2="710.6" stroke="#888" stroke-width="1.2" stroke-linecap="round"/>
<line x1="475.0" y1="722.0" x2="548.0" y2="722.0" stroke="#666" stroke-width="1.2" stroke-linecap="round"/>
<line x1="473.0" y1="725.2" x2="550.0" y2="725.2" stroke="#333" stroke-width="1.8" stroke-linecap="round"/>
<line x1="498.6" y1="735" x2="498.6" y2="771.8" stroke="#333" stroke-width="2.4" stroke-linecap="round"/>
<line x1="524.6" y1="735" x2="524.6" y2="771.8" stroke="#333" stroke-width="2.4" stroke-linecap="round"/>
<rect x="482.2" y="783.8" width="12.4" height="8" rx="0" stroke="#333" stroke-width="2.4" fill="#fff"/>
<rect x="528.4" y="783.8" width="12.4" height="8" rx="0" stroke="#333" stroke-width="2.4" fill="#fff"/>
<rect x="494.4" y="771.8" width="34.1" height="20" rx="0" stroke="#333" stroke-width="2.4" fill="#fff"/>
<rect x="478.2" y="791.8" width="66.2" height="12.9" rx="0" stroke="#333" stroke-width="2.4" fill="#fff"/>
<rect x="484.7" y="804.7" width="7.4" height="12.2" rx="0" stroke="#333" stroke-width="2.4" fill="#fff"/>
<rect x="530.0" y="804.7" width="7.4" height="12.2" rx="0" stroke="#333" stroke-width="2.4" fill="#fff"/>
<path d="M 494.0,805 L 494.0,813 Q 494.5,815 496.5,817 L 500.0,820.5 L 522.3,820.5 L 526.5,817 Q 528.5,815 529.0,813 L 529.0,805" stroke="#333" stroke-width="2.4" fill="#fff" stroke-linejoin="round" />
<rect x="494.0" y="804.5" width="35" height="6.8" fill="#333"/>
<line x1="627.1999999999999" y1="222" x2="627.1999999999999" y2="308.5" stroke="#333" stroke-width="2.4" stroke-linecap="round"/>
<line x1="646.6" y1="222" x2="646.6" y2="308.5" stroke="#333" stroke-width="2.4" stroke-linecap="round"/>
<path d="M 627.1999999999999,308.5 L 646.6,308.5 L 652.4,314.5 Q 653.9,319 650.1,321.8 L 623.6999999999999,321.8 Q 619.9,319 621.4,314.5 Z" stroke="#333" stroke-width="2.4" fill="#fff" stroke-linejoin="round" />
<line x1="621.4" y1="315" x2="652.4" y2="315" stroke="#333" stroke-width="1.6" stroke-linecap="round"/>
<line x1="627.9" y1="310.8" x2="645.9" y2="310.8" stroke="#777" stroke-width="1.6" stroke-linecap="round"/>
<line x1="623.65" y1="321.8" x2="623.65" y2="709" stroke="#333" stroke-width="2.4" stroke-linecap="round"/>
<line x1="650.15" y1="321.8" x2="650.15" y2="709" stroke="#333" stroke-width="2.4" stroke-linecap="round"/>
<path d="M 623.6,708.6 L 650.1999999999999,708.6 L 653.1,712.6 Q 659.9,717.6 673.4,722.0 L 675.4,723.6 Q 682.4,727.1 682.4,732.6 Q 682.4,734.6 680.4,734.6 L 593.4,734.6 Q 591.4,734.6 591.4,732.6 Q 591.4,727.1 598.4,723.6 L 600.4,722.0 Q 613.9,717.6 620.6999999999999,712.6 Z" stroke="#333" stroke-width="2.4" fill="#fff" stroke-linejoin="round" />
<line x1="620.9" y1="712.6" x2="652.9" y2="712.6" stroke="#333" stroke-width="2.0" stroke-linecap="round"/>
<line x1="622.9" y1="710.6" x2="650.9" y2="710.6" stroke="#888" stroke-width="1.2" stroke-linecap="round"/>
<line x1="600.4" y1="722.0" x2="673.4" y2="722.0" stroke="#666" stroke-width="1.2" stroke-linecap="round"/>
<line x1="598.4" y1="725.2" x2="675.4" y2="725.2" stroke="#333" stroke-width="1.8" stroke-linecap="round"/>
<line x1="624.0" y1="735" x2="624.0" y2="771.8" stroke="#333" stroke-width="2.4" stroke-linecap="round"/>
<line x1="650.0" y1="735" x2="650.0" y2="771.8" stroke="#333" stroke-width="2.4" stroke-linecap="round"/>
<rect x="607.6" y="783.8" width="12.4" height="8" rx="0" stroke="#333" stroke-width="2.4" fill="#fff"/>
<rect x="653.8" y="783.8" width="12.4" height="8" rx="0" stroke="#333" stroke-width="2.4" fill="#fff"/>
<rect x="619.8" y="771.8" width="34.1" height="20" rx="0" stroke="#333" stroke-width="2.4" fill="#fff"/>
<rect x="603.6" y="791.8" width="66.2" height="12.9" rx="0" stroke="#333" stroke-width="2.4" fill="#fff"/>
<rect x="610.1" y="804.7" width="7.4" height="12.2" rx="0" stroke="#333" stroke-width="2.4" fill="#fff"/>
<rect x="655.4" y="804.7" width="7.4" height="12.2" rx="0" stroke="#333" stroke-width="2.4" fill="#fff"/>
<path d="M 619.4,805 L 619.4,813 Q 619.9,815 621.9,817 L 625.4,820.5 L 647.6999999999999,820.5 L 651.9,817 Q 653.9,815 654.4,813 L 654.4,805" stroke="#333" stroke-width="2.4" fill="#fff" stroke-linejoin="round" />
<rect x="619.4" y="804.5" width="35" height="6.8" fill="#333"/>
<line x1="525" y1="199.4" x2="551" y2="199.4" stroke="#333" stroke-width="2.4" stroke-linecap="round"/>
<line x1="525" y1="221.1" x2="551" y2="221.1" stroke="#333" stroke-width="2.4" stroke-linecap="round"/>
<line x1="599" y1="199.5" x2="623" y2="199.5" stroke="#333" stroke-width="2.4" stroke-linecap="round"/>
<line x1="599" y1="221.3" x2="623" y2="221.3" stroke="#333" stroke-width="2.4" stroke-linecap="round"/>
<path d="M 498,207.5 L 460,206.8 Q 455.5,208 456,211 Q 457,213.8 461,213.8 L 498,213" stroke="#333" stroke-width="2.2" fill="#fff" stroke-linejoin="round" />
<path d="M 651,207.5 L 688,207 Q 692.5,208.5 692,211 Q 691,213.8 687,213.8 L 651,213" stroke="#333" stroke-width="2.2" fill="#fff" stroke-linejoin="round" />
<circle cx="511.5" cy="210.3" r="13" fill="#333"/>
<circle cx="511.5" cy="210.3" r="4.9" fill="#fff"/>
<path d="M 517.5,198.8 A 13 13 0 0 1 517.5,221.8" stroke="#333" stroke-width="1.4" fill="none" transform="translate(3,0)"/>
<circle cx="636.8" cy="210.6" r="13" fill="#333"/>
<circle cx="636.8" cy="210.6" r="4.9" fill="#fff"/>
<path d="M 630.8,199.1 A 13 13 0 0 0 630.8,222.1" stroke="#333" stroke-width="1.4" fill="none" transform="translate(-3,0)"/>
<line x1="511.5" y1="205" x2="511.5" y2="216" stroke="#6a6a6a" stroke-width="1.4"/>
<path d="M 553,196 L 596,196 L 597.5,204 L 596.5,215 L 597.5,224 L 596,225.5 L 553,225.5 L 551.5,224 L 552.5,215 L 551.5,204 Z" stroke="#333" stroke-width="2.6" fill="#333" stroke-linejoin="round" />
<circle cx="554" cy="195" r="3.6" fill="#333"/>
<circle cx="595" cy="195" r="3.6" fill="#333"/>
<circle cx="554" cy="224.5" r="3.6" fill="#333"/>
<circle cx="595" cy="224.5" r="3.6" fill="#333"/>
<circle cx="553.8" cy="204.2" r="2.3" fill="#fff"/><circle cx="595.3" cy="204.2" r="2.3" fill="#fff"/>
<circle cx="556.5" cy="220" r="1.0" fill="#ddd"/><circle cx="591.5" cy="220" r="1.0" fill="#ddd"/>
<rect x="560.5" y="202.8" width="5.5" height="3" fill="#fff"/><rect x="581.5" y="202.8" width="5.5" height="3" fill="#fff"/>
<path d="M 564,208 Q 562.5,217 564,227 L 584.5,227 Q 586,217 584.5,208 Z" stroke="#333" stroke-width="2.0" fill="#fff" stroke-linejoin="round" />
<ellipse cx="573.5" cy="204.5" rx="8.8" ry="4.2" fill="#fff" stroke="#333" stroke-width="2"/>
<line x1="566" y1="206.5" x2="581" y2="206.5" stroke="#888" stroke-width="1.2" stroke-linecap="round"/>
<path d="M 562,227 Q 560.5,236.5 562,246 L 586.3,246 Q 587.8,236.5 586.3,227 Z" stroke="#333" stroke-width="2.4" fill="#fff" stroke-linejoin="round" />
<line x1="562" y1="228.8" x2="586.3" y2="228.8" stroke="#333" stroke-width="3.2" stroke-linecap="round"/>
<line x1="562.5" y1="232.3" x2="586" y2="232.3" stroke="#777" stroke-width="1.4" stroke-linecap="round"/>
<line x1="562" y1="243" x2="586.5" y2="243" stroke="#333" stroke-width="5.5" stroke-linecap="round"/>
<path d="M 564,246 L 568,269.4 L 582,269.4 L 585.5,246" stroke="#333" stroke-width="2.4" fill="#fff" stroke-linejoin="round" />
<rect x="569" y="167" width="10.6" height="26.5" rx="0" stroke="#333" stroke-width="2.4" fill="#fff"/>
<line x1="569" y1="186" x2="579.6" y2="186" stroke="#333" stroke-width="1.3" stroke-linecap="round"/>
<line x1="569" y1="189" x2="579.6" y2="189" stroke="#333" stroke-width="1.3" stroke-linecap="round"/>
<path d="M 569,190 Q 566,191.5 565.5,193.5 L 584,193.5 Q 583,191.5 579.6,190 Z" stroke="#333" stroke-width="2.4" fill="#fff" stroke-linejoin="round" />
<path d="M 574.5,270 C 574.5,350.8 591.4,380.0 625.4,380.0 C 677.8,380.0 770.4,282.4 770.4,207.0 C 770.4,159.7 704.9,120.4 645,124.1" stroke="#333" stroke-width="13.5" fill="none"/>
<path d="M 574.5,270 C 574.5,350.8 591.4,380.0 625.4,380.0 C 677.8,380.0 770.4,282.4 770.4,207.0 C 770.4,159.7 704.9,120.4 645,124.1" stroke="#fff" stroke-width="9" fill="none"/>
<line x1="691" y1="330" x2="691" y2="362" stroke="#6a6a6a" stroke-width="1.4"/>
<line x1="637" y1="372" x2="637" y2="390" stroke="#6a6a6a" stroke-width="1.4"/>
<path d="M 478,141 C 479,128 485,118.5 500,118.5 L 527.5,118.5" stroke="#333" stroke-width="2.3" fill="none" stroke-linejoin="round" />
<path d="M 490,141 C 491,134 494,130 502,130 L 527.5,130" stroke="#333" stroke-width="2.3" fill="none" stroke-linejoin="round" />
<path d="M 478,140.5 L 489.5,140.5 Q 490.5,147.5 495.5,151 L 472,151 Q 477,147.5 478,140.5 Z" stroke="#333" stroke-width="2.4" fill="#fff" stroke-linejoin="round" />
<path d="M 442,168.3 Q 442,165.8 445,164.8 L 445,155 Q 446,151 454,151 L 511.4,151 Q 519.4,151 520.4,155 L 520.4,164.8 Q 523.4,165.8 523.4,168.3 Q 522.9,170.3 520.4,170.3 L 445,170.3 Q 442.5,170.3 442,168.3 Z" stroke="#333" stroke-width="2.4" fill="#fff" stroke-linejoin="round" />
<path d="M 445.5,155 Q 446.5,151.8 454,151.8 L 511.4,151.8 Q 518.9,151.8 519.9,155 L 519.9,164.3 L 445.5,164.3 Z" fill="#4a4a4a"/>
<line x1="446" y1="155.6" x2="519.4" y2="155.6" stroke="#a0a0a0" stroke-width="2.4" stroke-linecap="round"/>
<line x1="446" y1="160.8" x2="519.4" y2="160.8" stroke="#a0a0a0" stroke-width="2.2" stroke-linecap="round"/>
<line x1="443" y1="169.8" x2="522.4" y2="169.8" stroke="#333" stroke-width="2.6" stroke-linecap="round"/>
<line x1="511.6" y1="150" x2="511.6" y2="172" stroke="#6a6a6a" stroke-width="1.4"/>
<path d="M 530,130 C 530,150 545,167.3 574.5,167.3 C 604,167.3 619,150 619,130" stroke="#333" stroke-width="2.3" fill="none" stroke-linejoin="round" />
<path d="M 537,134 C 540,150 552,160.4 574.5,160.4 C 597,160.4 609,150 612,134" stroke="#333" stroke-width="2.3" fill="none" stroke-linejoin="round" />
<rect x="536.8" y="114.5" width="74.9" height="19.9" rx="2" stroke="#333" stroke-width="2.4" fill="#fff"/>
<line x1="541" y1="115" x2="541" y2="134" stroke="#333" stroke-width="2" stroke-linecap="round"/>
<line x1="607.5" y1="115" x2="607.5" y2="134" stroke="#333" stroke-width="2" stroke-linecap="round"/>
<rect x="527" y="113.3" width="6" height="20.6" rx="3" stroke="#333" stroke-width="2.4" fill="#333"/>
<rect x="614.8" y="113" width="6" height="21" rx="3" stroke="#333" stroke-width="2.4" fill="#333"/>
<line x1="530" y1="116" x2="530" y2="131" stroke="#aaa" stroke-width="1.0" stroke-linecap="round"/>
<line x1="617.8" y1="116" x2="617.8" y2="131" stroke="#aaa" stroke-width="1.0" stroke-linecap="round"/>
<line x1="622.5" y1="115" x2="622.5" y2="133" stroke="#333" stroke-width="3.5" stroke-linecap="round"/>
<path d="M 621,115.3 L 645,117 L 645,132 L 621,133.3" stroke="#333" stroke-width="2.4" fill="#fff" stroke-linejoin="round" />
<rect x="640" y="119" width="4" height="10" rx="2" fill="#333"/>
</svg>
</body></html>
